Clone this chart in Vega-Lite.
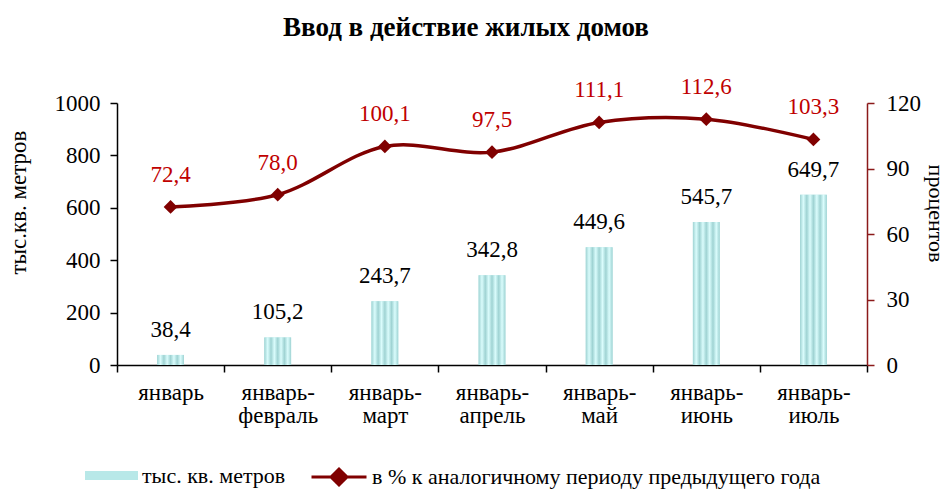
{
  "$schema": "https://vega.github.io/schema/vega-lite/v6.json",
  "width": 750,
  "height": 262,
  "autosize": {"type": "none"},
  "padding": {"left": 117, "top": 103, "right": 82, "bottom": 126},
  "background": "#ffffff",
  "config": {
    "locale": {"number": {"decimal": ",", "thousands": " ", "grouping": [3], "currency": ["", ""]}},
    "view": {"stroke": null},
    "font": "Liberation Serif",
    "style": {"guide-label": {"font": "Liberation Serif"}, "guide-title": {"font": "Liberation Serif"}},
    "axis": {
      "labelFont": "Liberation Serif",
      "titleFont": "Liberation Serif",
      "labelColor": "#000000",
      "titleColor": "#000000",
      "titleFontWeight": "normal",
      "grid": false,
      "domainColor": "#000000",
      "tickColor": "#000000",
      "domainWidth": 1.5,
      "tickWidth": 1.5
    },
    "legend": {
      "labelFont": "Liberation Serif",
      "labelFontSize": 22,
      "labelColor": "#000000",
      "labelLimit": 700,
      "padding": 0,
      "title": null
    }
  },
  "title": {
    "text": "Ввод  в действие жилых домов",
    "font": "Liberation Serif",
    "fontSize": 27,
    "fontWeight": "bold",
    "color": "#000000",
    "frame": "group",
    "anchor": "middle",
    "offset": 34,
    "dx": -26
  },
  "data": {
    "values": [
      {"period": "январь", "area": 38.4, "pct": 72.4},
      {"period": "январь-|февраль", "area": 105.2, "pct": 78.0},
      {"period": "январь-|март", "area": 243.7, "pct": 100.1},
      {"period": "январь-|апрель", "area": 342.8, "pct": 97.5},
      {"period": "январь-|май", "area": 449.6, "pct": 111.1},
      {"period": "январь-|июнь", "area": 545.7, "pct": 112.6},
      {"period": "январь-|июль", "area": 649.7, "pct": 103.3}
    ]
  },
  "encoding": {
    "x": {
      "field": "period",
      "type": "nominal",
      "sort": null,
      "scale": {"paddingInner": 0, "paddingOuter": 0},
      "axis": {
        "title": null,
        "labelExpr": "datum.label ? split(datum.label, '|') : ''",
        "labelAngle": 0,
        "labelFontSize": 23,
        "labelLineHeight": 23,
        "labelPadding": 9,
        "tickBand": "extent",
        "tickSize": 7
      }
    }
  },
  "layer": [
    {
      "encoding": {
        "y": {
          "field": "area",
          "type": "quantitative",
          "scale": {"domain": [0, 1000], "nice": false},
          "axis": {
            "title": "тыс.кв. метров",
            "titleFontSize": 23,
            "titlePadding": 24,
            "titleY": 99,
            "labelFontSize": 23,
            "labelPadding": 10,
            "tickSize": 7,
            "values": [0, 200, 400, 600, 800, 1000],
            "format": "d"
          }
        }
      },
      "layer": [
        {
          "mark": {"type": "bar", "width": {"band": 0.25}},
          "encoding": {
            "color": {
              "datum": "тыс. кв. метров",
              "type": "nominal",
              "scale": {"range": ["#b8e8e8"]},
              "legend": {
                "orient": "none",
                "legendX": -32,
                "legendY": 346,
                "symbolType": "M-1,-0.17H1V0.17H-1Z",
                "symbolSize": 2809,
                "symbolStrokeWidth": 0,
                "symbolOpacity": 1,
                "labelOffset": 4,
                "labelFont": "Times New Roman",
                "labelFontSize": 22,
                "labelLimit": 700,
                "encode": {"labels": {"enter": {"font": {"value": "Liberation Serif"}}, "update": {"font": {"value": "Liberation Serif"}}}}
              }
            }
          }
        },
        {
          "mark": {
            "type": "bar",
            "width": {"band": 0.25},
            "fill": {
              "gradient": "linear",
              "x1": 0, "y1": 0, "x2": 1, "y2": 0,
              "stops": [
                {"offset": 0, "color": "#9fd3d3"},
                {"offset": 0.125, "color": "#dafcfc"},
                {"offset": 0.25, "color": "#9fd3d3"},
                {"offset": 0.375, "color": "#dafcfc"},
                {"offset": 0.5, "color": "#9fd3d3"},
                {"offset": 0.625, "color": "#dafcfc"},
                {"offset": 0.75, "color": "#9fd3d3"},
                {"offset": 0.875, "color": "#dafcfc"},
                {"offset": 1, "color": "#9fd3d3"}
              ]
            },
            "fillOpacity": 1
          },
          "encoding": {}
        },
        {
          "mark": {"type": "text", "dy": -25, "fontSize": 23, "color": "#000000", "baseline": "middle"},
          "encoding": {
            "text": {"field": "area", "type": "quantitative", "format": ".1f"}
          }
        }
      ]
    },
    {
      "encoding": {
        "y": {
          "field": "pct",
          "type": "quantitative",
          "scale": {"domain": [0, 120], "nice": false},
          "axis": {
            "orient": "right",
            "title": "процентов",
            "titleFontSize": 22,
            "titlePadding": 3,
            "titleY": 110,
            "labelFontSize": 23,
            "labelPadding": 12,
            "tickSize": 7,
            "values": [0, 30, 60, 90, 120],
            "domainColor": "#8b1a1a",
            "tickColor": "#8b1a1a"
          }
        }
      },
      "layer": [
        {
          "mark": {"type": "line", "strokeWidth": 3.5, "interpolate": "catmull-rom"},
          "encoding": {
            "stroke": {
              "datum": "в % к аналогичному  периоду предыдущего  года",
              "type": "nominal",
              "scale": {"range": ["#800000"]},
              "legend": {
                "orient": "none",
                "legendX": 193,
                "legendY": 345,
                "symbolType": "M-1,0H1M-0.29,0L0,-0.29L0.29,0L0,0.29Z",
                "symbolSize": 3025,
                "symbolStrokeWidth": 3,
                "symbolFillColor": "#800000",
                "labelOffset": 4,
                "labelFont": "Times New Roman",
                "labelFontSize": 22,
                "labelLimit": 700,
                "encode": {"labels": {"enter": {"font": {"value": "Liberation Serif"}}, "update": {"font": {"value": "Liberation Serif"}}}}
              }
            }
          }
        },
        {
          "mark": {"type": "point", "shape": "diamond", "filled": true, "size": 190, "color": "#800000", "opacity": 1},
          "encoding": {}
        },
        {
          "mark": {"type": "text", "dy": -32, "fontSize": 23, "color": "#c00000", "baseline": "middle"},
          "encoding": {
            "text": {"field": "pct", "type": "quantitative", "format": ".1f"}
          }
        }
      ]
    }
  ],
  "resolve": {"scale": {"y": "independent"}}
}
